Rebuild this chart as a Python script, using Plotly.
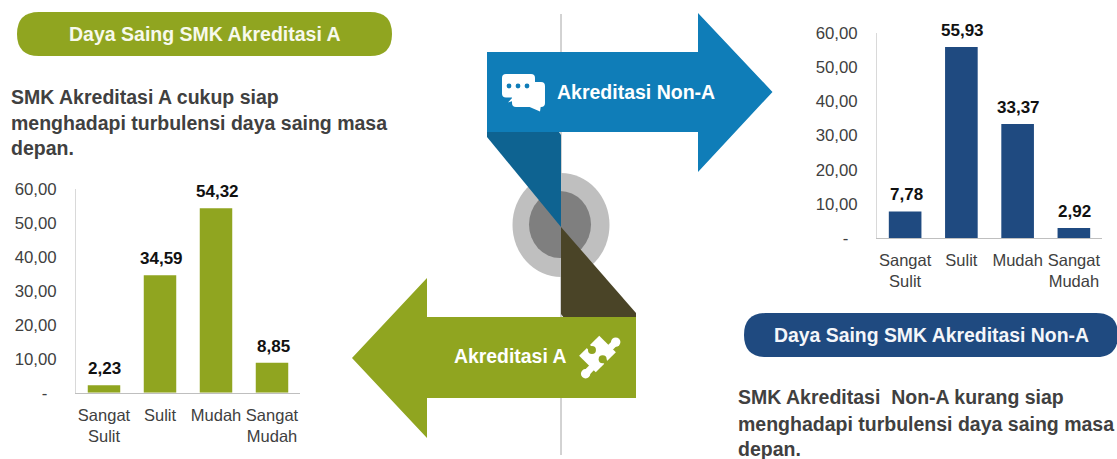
import math

import plotly.graph_objects as go

W, H = 1117, 459

categories = ["Sangat<br>Sulit", "Sulit", "Mudah", "Sangat<br>Mudah"]
values_a = [2.23, 34.59, 54.32, 8.85]
values_non_a = [7.78, 55.93, 33.37, 2.92]
tick_values = [0, 10, 20, 30, 40, 50, 60]
tick_labels = ["-\u00a0\u00a0", "10,00", "20,00", "30,00", "40,00", "50,00", "60,00"]

GREEN = "#90A520"
NAVY = "#1F4A80"
BLUE = "#0F7DB8"
BLUE_DARK = "#0E6391"
BROWN = "#4A4427"
TEXT = "#404040"
FONT = "Liberation Sans, Arial, sans-serif"


def px(x, y):
    return x / W, 1 - y / H


def poly(points, color):
    path = ""
    for i, (x, y) in enumerate(points):
        fx, fy = px(x, y)
        path += f"{'M' if i == 0 else 'L'}{fx:.5f},{fy:.5f} "
    return dict(type="path", xref="paper", yref="paper", path=path + "Z",
                fillcolor=color, line_width=0)


def rounded(x0, y0, x1, y1, r, color, line=None):
    def p(x, y):
        fx, fy = px(x, y)
        return f"{fx:.5f},{fy:.5f}"

    path = (
        f"M{p(x0 + r, y0)} L{p(x1 - r, y0)} Q{p(x1, y0)} {p(x1, y0 + r)} "
        f"L{p(x1, y1 - r)} Q{p(x1, y1)} {p(x1 - r, y1)} "
        f"L{p(x0 + r, y1)} Q{p(x0, y1)} {p(x0, y1 - r)} "
        f"L{p(x0, y0 + r)} Q{p(x0, y0)} {p(x0 + r, y0)} Z"
    )
    shape = dict(type="path", xref="paper", yref="paper", path=path, fillcolor=color, line_width=0)
    if line:
        shape["line"] = dict(color=line, width=1)
    return shape


def ellipse(cx, cy, rx, ry, color):
    x0, y0 = px(cx - rx, cy + ry)
    x1, y1 = px(cx + rx, cy - ry)
    return dict(type="circle", xref="paper", yref="paper", x0=x0, y0=y0, x1=x1, y1=y1,
                fillcolor=color, line_width=0)


def hline(x, y0, y1, color):
    fx, fy0 = px(x, y0)
    _, fy1 = px(x, y1)
    return dict(type="line", xref="paper", yref="paper", x0=fx, x1=fx, y0=fy0, y1=fy1,
                line=dict(color=color, width=1))


def puzzle_pt(a, b):
    # a runs up-right, b runs down-right, centred on the piece
    s = math.sqrt(0.5) * 1.12
    return 597.5 + (a + b) * s, 354 + (b - a) * s


def label(x, y, text, size, color, anchor="left", bold=True):
    fx, fy = px(x, y)
    return dict(xref="paper", yref="paper", x=fx, y=fy, text=f"<b>{text}</b>" if bold else text,
                showarrow=False, xanchor=anchor, yanchor="middle",
                font=dict(family=FONT, size=size, color=color))


def value_labels(values, xref, yref):
    return [
        dict(xref=xref, yref=yref, x=c, y=v, text=f"<b>{v:.2f}</b>".replace(".", ","),
             showarrow=False, yanchor="middle", yshift=16.5, xshift=1,
             font=dict(family=FONT, size=17, color="#111111"))
        for c, v in zip(categories, values)
    ]


shapes = [
    rounded(17, 12, 392, 56, 22, GREEN),
    rounded(744, 313, 1118, 357, 22, NAVY),
    hline(561, 14, 455, "#A6A6A6"),
    ellipse(561, 225, 48.5, 52, "#BFBFBF"),
    ellipse(560, 224.5, 31, 33.5, "#7F7F7F"),
    poly([(487, 132), (559, 132), (561, 135), (561, 227), (487, 137)], BLUE_DARK),
    poly([(561, 227), (636, 313), (636, 318), (564, 318), (561, 314)], BROWN),
    poly([(487, 52), (698, 52), (698, 13), (772.5, 92), (698, 172), (698, 132), (487, 132)], BLUE),
    poly([(636, 317), (427, 317), (427, 278), (352, 358), (427, 438), (427, 398), (636, 398)], GREEN),
    # speech bubbles
    rounded(512, 82, 545, 107, 4, "white"),
    poly([(525, 105), (541, 105), (540, 111.5)], "white"),
    rounded(502, 74, 535, 97.5, 4, "white", line=BLUE),
    poly([(513, 97), (525, 97), (508, 102.5)], "white"),
    ellipse(509, 86, 2.4, 2.4, BLUE),
    ellipse(518, 86, 2.4, 2.4, BLUE),
    ellipse(527, 86, 2.4, 2.4, BLUE),
    # puzzle piece
    poly([puzzle_pt(*p) for p in [(12.7, -10.5), (12.7, 10.5), (-12.7, 10.5), (-12.7, -10.5)]], "white"),
    ellipse(*puzzle_pt(19, 4), 4.7, 4.7, "white"),
    ellipse(*puzzle_pt(-20, 5), 4.7, 4.7, "white"),
    poly([puzzle_pt(*p) for p in [(12, 1), (12, 7), (19, 7), (19, 1)]], "white"),
    poly([puzzle_pt(*p) for p in [(-12, 2), (-12, 8), (-20, 8), (-20, 2)]], "white"),
    ellipse(*puzzle_pt(-1, -6), 4, 4, GREEN),
    ellipse(*puzzle_pt(0, 6.5), 4, 4, GREEN),
    poly([puzzle_pt(*p) for p in [(-3, -11), (1, -11), (1, -6), (-3, -6)]], GREEN),
    poly([puzzle_pt(*p) for p in [(-2, 6), (2, 6), (2, 11), (-2, 11)]], GREEN),
]

annotations = [
    label(204.5, 34, "Daya Saing SMK Akreditasi A", 19.5, "#F7F9EC", "center"),
    label(931, 335, "Daya Saing SMK Akreditasi Non-A", 19.4, "#F4F6FA", "center"),
    label(555, 92, "Akreditasi Non-A", 19.5, "white"),
    label(568, 356, "Akreditasi A", 19.4, "white", "right"),
    label(9, 97, "SMK Akreditasi A cukup siap", 19.5, TEXT),
    label(9, 123, "menghadapi turbulensi daya saing masa", 19.5, TEXT),
    label(9, 147.5, "depan.", 19.5, TEXT),
    label(736, 397, "SMK Akreditasi  Non-A kurang siap", 19.5, TEXT),
    label(736, 424, "menghadapi turbulensi daya saing masa", 19.5, TEXT),
    label(736, 449, "depan.", 19.5, TEXT),
]
annotations += value_labels(values_a, "x", "y")
annotations += value_labels(values_non_a, "x2", "y2")


def add_bars(fig, values, color, xaxis, yaxis):
    fig.add_trace(go.Bar(
        x=categories, y=values, marker=dict(color=color, line_width=0),
        xaxis=xaxis, yaxis=yaxis, showlegend=False, hoverinfo="skip",
    ))


fig = go.Figure()
add_bars(fig, values_a, GREEN, "x", "y")
add_bars(fig, values_non_a, NAVY, "x2", "y2")

x_style = dict(type="category", showgrid=False, showline=True, linecolor="#BFBFBF", linewidth=1,
               ticks="", ticklabelstandoff=7, tickangle=0, zeroline=False,
               tickfont=dict(family=FONT, size=16.5, color=TEXT))
y_style = dict(range=[0, 60], tickvals=tick_values, ticktext=tick_labels, showgrid=False,
               showline=True, linecolor="#D9D9D9", linewidth=1, ticks="", ticklabelstandoff=15,
               zeroline=False, tickfont=dict(family=FONT, size=16.8, color=TEXT))

fig.update_layout(
    width=W, height=H, margin=dict(l=0, r=0, t=0, b=0, pad=0, autoexpand=False),
    paper_bgcolor="white", plot_bgcolor="white", bargap=0.42,
    xaxis=dict(domain=[76 / W, 300 / W], anchor="y", **x_style),
    yaxis=dict(domain=[1 - 392.7 / H, 1 - 189 / H], anchor="x", **y_style),
    xaxis2=dict(domain=[877 / W, 1102 / W], anchor="y2", **x_style),
    yaxis2=dict(domain=[1 - 238 / H, 1 - 33 / H], anchor="x2", **y_style),
    shapes=shapes, annotations=annotations,
)

fig.write_html("out.html", config=dict(displayModeBar=False),
               post_script="document.body.style.margin = '0';")
